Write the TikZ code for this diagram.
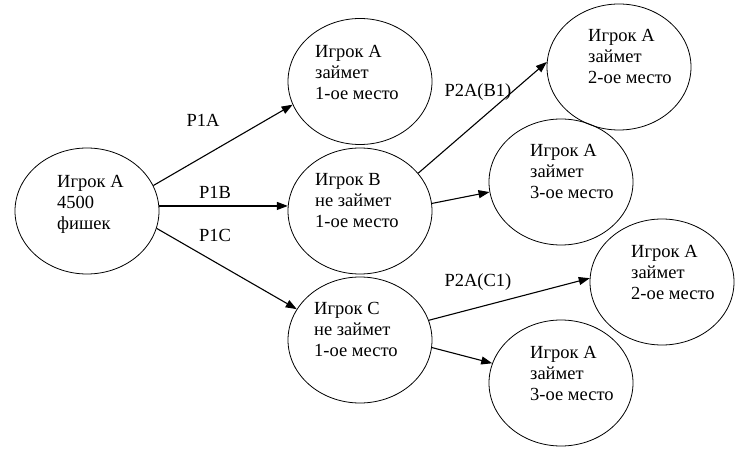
\documentclass[tikz,border=0pt]{standalone}
\usepackage{fontspec}
\setmainfont{Liberation Serif}
\usetikzlibrary{arrows.meta,shapes.geometric}
\tikzset{
  oval/.style={draw, ellipse, line width=0.8pt, minimum width=144pt, minimum height=126pt, inner sep=0pt},
  txt/.style={anchor=base west, inner sep=0pt, font=\fontsize{18.5}{21}\selectfont},
  lbl/.style={anchor=base, inner sep=0pt, font=\fontsize{18.5}{21}\selectfont},
  arr/.style={line width=1.1pt, -{Triangle[length=11pt,width=8pt]}}
}
\newcommand{\lines}[1]{\begin{tabular}[t]{@{}l@{}}#1\end{tabular}}
\begin{document}
\begin{tikzpicture}[x=1pt,y=-1pt]
\useasboundingbox (0,0) rectangle (749,470);
% ellipses
\node[oval] (root) at (87,211) {};
\node[oval] (a1) at (360,81.5) {};
\node[oval] (b) at (360,211) {};
\node[oval] (c) at (360,340) {};
\node[oval] (a2) at (619,67) {};
\node[oval] (a3) at (561,182) {};
\node[oval] (a2c) at (662,282) {};
\node[oval] (a3c) at (561,383) {};
% texts
\node[txt] (troot) at (57,188) {\lines{Игрок А\\4500\\фишек}};
\node[txt] (ta1) at (315,58) {\lines{Игрок А\\займет\\1-ое место}};
\node[txt] (tb) at (315,186) {\lines{Игрок В\\не займет\\1-ое место}};
\node[txt] (tc) at (314,314) {\lines{Игрок С\\не займет\\1-ое место}};
\node[txt] (ta2) at (588,42) {\lines{Игрок А\\займет\\2-ое место}};
\node[txt] (ta3) at (530,157) {\lines{Игрок А\\займет\\3-ое место}};
\node[txt] (ta2c) at (631,258) {\lines{Игрок А\\займет\\2-ое место}};
\node[txt] (ta3c) at (530,358) {\lines{Игрок А\\займет\\3-ое место}};
% labels
\node[lbl] (l1a) at (203,127) {P1A};
\node[lbl] (l1b) at (215,199) {P1B};
\node[lbl] (l1c) at (215,242) {P1C};
\node[lbl] (l2b) at (478,97) {P2A(B1)};
\node[lbl] (l2c) at (478,286) {P2A(C1)};
% arrows
\draw[arr] (root.21) -- (a1.199.5);
\draw[arr] (root.4) -- (b.176);
\draw[arr] (root.346.5) -- (c.154);
\draw[arr] (b.33) -- (a2.176);
\draw[arr] (b.6) -- (a3.188);
\draw[arr] (c.16) -- (a2c.177);
\draw[arr] (c.354) -- (a3c.164);
\end{tikzpicture}
\end{document}
